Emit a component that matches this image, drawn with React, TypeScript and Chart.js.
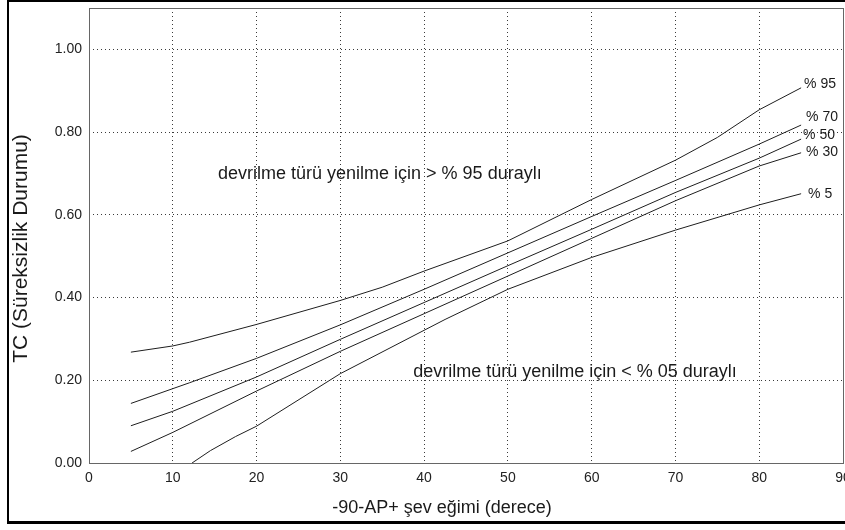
import React, { useEffect, useRef } from "react";
import { Chart, registerables } from "chart.js";

Chart.register(...registerables);

// ---- axis ----
const xMin = 0;
const xMax = 90;
const xStep = 10;
const yMin = 0;
const yMax = 1.1;
const yStep = 0.2;

const xTitle = "-90-AP+ şev eğimi (derece)";
const yTitle = "TC (Süreksizlik Durumu)";

// ---- series (x: slope angle, y: TC) ----
const seriesNames = ["% 95", "% 70", "% 50", "% 30", "% 5"];

const x95 = [5, 10, 12, 20, 30, 35, 40, 50, 60, 70, 75, 80, 85];
const y95 = [0.268, 0.283, 0.292, 0.335, 0.393, 0.425, 0.464, 0.537, 0.637, 0.732, 0.787, 0.854, 0.907];

const x70 = [5, 12, 20, 30, 40, 50, 60, 70, 80, 85];
const y70 = [0.144, 0.194, 0.253, 0.334, 0.42, 0.508, 0.596, 0.683, 0.771, 0.817];

const x50 = [5, 10, 20, 30, 40, 50, 60, 70, 80, 85];
const y50 = [0.09, 0.125, 0.208, 0.299, 0.388, 0.477, 0.565, 0.654, 0.737, 0.783];

const x30 = [5, 10, 20, 30, 40, 50, 60, 70, 80, 85];
const y30 = [0.028, 0.074, 0.174, 0.27, 0.361, 0.452, 0.543, 0.634, 0.718, 0.75];

const x5 = [12.3, 14.5, 17.5, 20, 30, 42.5, 50, 60, 70, 80, 85];
const y5 = [0, 0.03, 0.064, 0.089, 0.216, 0.347, 0.42, 0.497, 0.563, 0.624, 0.651];

const seriesX = [x95, x70, x50, x30, x5];
const seriesY = [y95, y70, y50, y30, y5];

// ---- region notes ----
const noteAboveText = "devrilme türü yenilme için > % 95 duraylı";
const noteAboveAt = [15.4, 0.687];
const noteBelowText = "devrilme türü yenilme için < % 05 duraylı";
const noteBelowAt = [38.7, 0.208];

// label offsets (px) from each curve's end point
const labelOffsets = [
  [3, -4],
  [5, -8],
  [2, -4],
  [5, -1],
  [7, 0],
];

const FONT = "'Liberation Sans', Arial, sans-serif";

const overlayPlugin = {
  id: "overlay",
  afterDatasetsDraw(chart: any) {
    const { ctx, chartArea: a, scales } = chart;
    const xs = scales.x;
    const ys = scales.y;
    ctx.save();
    // plot frame
    ctx.setLineDash([]);
    ctx.strokeStyle = "#666";
    ctx.lineWidth = 1;
    ctx.strokeRect(a.left + 0.5, a.top + 0.5, a.right - a.left, a.bottom - a.top);

    ctx.fillStyle = "#1a1a1a";
    // curve labels
    ctx.font = `14px ${FONT}`;
    ctx.textAlign = "left";
    ctx.textBaseline = "middle";
    seriesNames.forEach((name, i) => {
      const xsArr = seriesX[i];
      const ysArr = seriesY[i];
      const px = xs.getPixelForValue(xsArr[xsArr.length - 1]);
      const py = ys.getPixelForValue(ysArr[ysArr.length - 1]);
      ctx.fillText(name, px + labelOffsets[i][0], py + labelOffsets[i][1]);
    });

    // region notes
    ctx.font = `18px ${FONT}`;
    ctx.textBaseline = "alphabetic";
    ctx.fillText(noteAboveText, xs.getPixelForValue(noteAboveAt[0]), ys.getPixelForValue(noteAboveAt[1]));
    ctx.fillText(noteBelowText, xs.getPixelForValue(noteBelowAt[0]), ys.getPixelForValue(noteBelowAt[1]));

    // axis titles
    ctx.font = `18px ${FONT}`;
    ctx.textAlign = "center";
    ctx.textBaseline = "middle";
    ctx.fillText(xTitle, (a.left + a.right) / 2 - 24, a.bottom + 45);

    ctx.save();
    ctx.font = `21px ${FONT}`;
    ctx.translate(21, (a.top + a.bottom) / 2 + 13);
    ctx.rotate(-Math.PI / 2);
    ctx.fillText(yTitle, 0, 0);
    ctx.restore();

    ctx.restore();
  },
};

export default function App() {
  const canvasRef = useRef<HTMLCanvasElement | null>(null);

  useEffect(() => {
    const canvas = canvasRef.current;
    if (!canvas) return;
    const datasets = seriesNames.map((name, i) => ({
      label: name,
      data: seriesX[i].map((xv, j) => ({ x: xv, y: seriesY[i][j] })),
      borderColor: "#1e1e1e",
      borderWidth: 1,
      pointRadius: 0,
      tension: 0,
      fill: false,
    }));

    const chart = new Chart(canvas, {
      type: "line",
      data: { datasets },
      plugins: [overlayPlugin],
      options: {
        animation: false,
        responsive: false,
        devicePixelRatio: 1,
        layout: { padding: { left: 0, right: 2, top: 8, bottom: 0 } },
        plugins: {
          legend: { display: false },
          tooltip: { enabled: false },
        },
        scales: {
          x: {
            type: "linear",
            min: xMin,
            max: xMax,
            ticks: {
              stepSize: xStep,
              padding: 7,
              color: "#222",
              font: { family: FONT, size: 14 },
              maxRotation: 0,
              autoSkip: false,
            },
            grid: { color: "#3a3a3a", lineWidth: 1, drawTicks: false },
            border: { display: false, dash: [1, 3] },
            afterFit: (s: any) => {
              s.height = 67;
              s.paddingLeft = 0;
              s.paddingRight = 0;
            },
          },
          y: {
            type: "linear",
            min: yMin,
            max: yMax,
            ticks: {
              stepSize: yStep,
              includeBounds: false,
              padding: 7,
              color: "#222",
              font: { family: FONT, size: 14 },
              callback: (v: any) => Number(v).toFixed(2),
            },
            grid: { color: "#3a3a3a", lineWidth: 1, drawTicks: false },
            border: { display: false, dash: [1, 3] },
            afterFit: (s: any) => {
              s.width = 89;
              s.paddingTop = 0;
              s.paddingBottom = 0;
            },
          },
        },
      } as any,
    });
    return () => chart.destroy();
  }, []);

  return (
    <>
      <canvas
        ref={canvasRef}
        width={845}
        height={530}
        style={{ position: "absolute", left: 0, top: 0, width: 845, height: 530 }}
      />
      <div
        style={{
          position: "absolute",
          left: 7,
          top: 0,
          width: 838,
          height: 524,
          boxSizing: "border-box",
          borderTop: "2px solid #000",
          borderLeft: "2px solid #000",
          borderBottom: "3px solid #000",
          pointerEvents: "none",
        }}
      />
    </>
  );
}
